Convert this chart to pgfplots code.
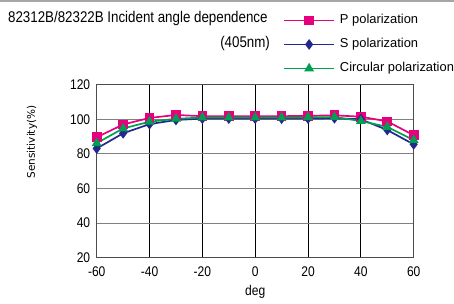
\documentclass[border=0pt]{standalone}
\usepackage{fontspec}
\setmainfont{Liberation Sans}
\newfontfamily\narrowfont[FakeStretch=0.86]{Liberation Sans}
\newfontfamily\dvfont{DejaVu Sans}
\usepackage{pgfplots}
\pgfplotsset{compat=1.18}
\definecolor{cP}{RGB}{230,0,126}
\definecolor{cS}{RGB}{35,40,140}
\definecolor{cC}{RGB}{0,160,80}
\begin{document}
\begin{tikzpicture}[x=1pt,y=1pt]
\useasboundingbox (0,0) rectangle (454,304);
\fill[gray!70] (0,302) rectangle (454,304);
\begin{axis}[
  at={(96.7pt,46.3pt)}, anchor=south west,
  scale only axis, width=317pt, height=173pt,
  xmin=-60, xmax=60, ymin=20, ymax=120,
  xtick={-60,-40,...,60}, ytick={20,40,...,120},
  major tick length=0pt,
  grid=major,
  x grid style={black, line width=0.9pt},
  y grid style={gray, line width=0.9pt},
  axis line style={gray!60!black, line width=1.2pt},
  /pgf/number format/assume math mode=true,
  ticklabel style={font=\narrowfont\fontsize{14}{16}\selectfont},
  xticklabel style={yshift=-5pt},
  yticklabel style={xshift=-3pt},
  xlabel={deg},
  xlabel style={font=\narrowfont\fontsize{14}{16}\selectfont, at={(axis description cs:0.5,-0.195)}, anchor=center},
  ylabel={Sensitivity(\%)},
  ylabel style={font=\dvfont\fontsize{10.5}{12}\selectfont, at={(axis description cs:-0.204,0.669)}, anchor=center},
  legend style={at={(axis description cs:0.588,1.41)}, anchor=north west, draw=none, fill=none,
    inner sep=0pt, font=\fontsize{12.9}{15}\selectfont,
    nodes={inner sep=0pt, text height=10pt, text depth=3pt}, row sep=11pt},
  legend cell align=left,
  legend image code/.code={\draw[line width=1.7pt, mark repeat=2,mark phase=2] plot coordinates {(0pt,0pt) (25pt,0pt) (50pt,0pt)}; \path (55pt,0pt);},
  clip=false,
]
\addplot[cP, line width=1.7pt, mark=square*, mark size=4pt] coordinates {
 (-60,89.6) (-50,97) (-40,100.8) (-30,102.5) (-20,101.8) (-10,101.8) (0,101.8) (10,101.8) (20,102) (30,102.3) (40,101.5) (50,98.8) (60,90.8)};
\addlegendentry{P polarization}
\addplot[cS, line width=1.7pt, mark=diamond*, mark size=4pt] coordinates {
 (-60,83.1) (-50,91.9) (-40,97.2) (-30,99.6) (-20,100.4) (-10,100.4) (0,100.4) (10,100.4) (20,100.4) (30,100.6) (40,100) (50,93.8) (60,85.5)};
\addlegendentry{S polarization}
\addplot[cC, line width=1.7pt, mark=triangle*, mark size=4pt] coordinates {
 (-60,86.2) (-50,94.7) (-40,98.6) (-30,100.3) (-20,101) (-10,101) (0,101) (10,101) (20,101.1) (30,101.3) (40,99) (50,95.6) (60,88)};
\addlegendentry{Circular polarization}
\node[anchor=west, inner sep=0pt, font=\narrowfont\fontsize{15.5}{17}\selectfont] at (axis description cs:-0.280,1.380) {82312B/82322B Incident angle dependence};
\node[anchor=east, inner sep=0pt, font=\narrowfont\fontsize{15.5}{17}\selectfont] at (axis description cs:0.547,1.241) {(405nm)};
\end{axis}
\end{tikzpicture}
\end{document}
